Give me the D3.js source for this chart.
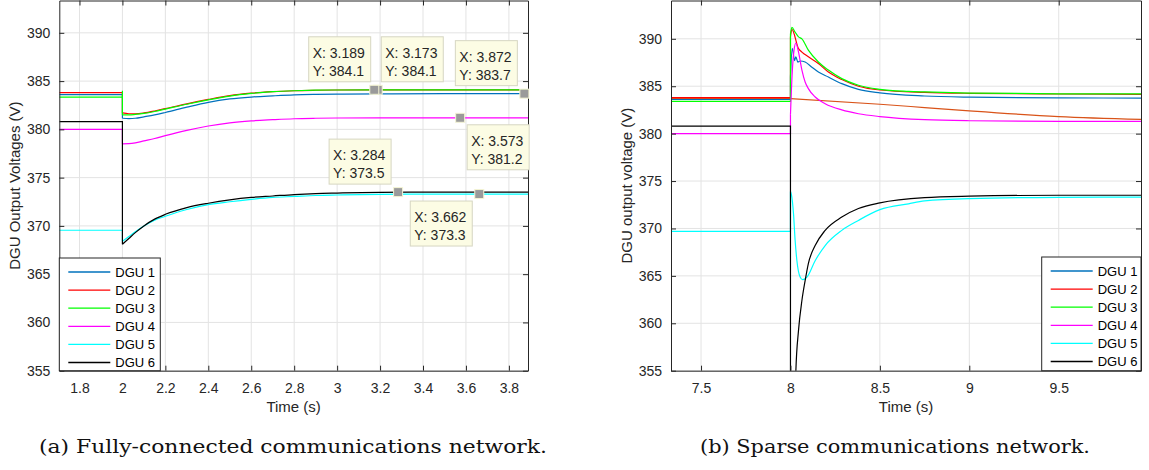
<!DOCTYPE html>
<html><head><meta charset="utf-8">
<script src="https://cdn.jsdelivr.net/npm/d3@7"></script>
<style>body{margin:0;background:#fff} svg{display:block}</style>
</head><body>
<svg id="c" width="1149" height="470"></svg>
<script>
// ---------------- DATA ----------------
const seriesNames = ["DGU 1","DGU 2","DGU 3","DGU 4","DGU 5","DGU 6"];
const yTicks = [355,360,365,370,375,380,385,390];

// (a) fully-connected
const aXDomain = [1.706, 3.889];
const aYDomain = [355, 393.35];
const aXTicks = [1.8,2,2.2,2.4,2.6,2.8,3,3.2,3.4,3.6,3.8];
const aStepTime = 2;
const aPre = [383.6, 383.8, 383.35, 380.0, 369.55, 380.8];
const aStepPeak = [null, null, 384.0, null, null, null];
const aTimes = [2.0, 2.03, 2.06, 2.1, 2.15, 2.2, 2.3, 2.4, 2.5, 2.6, 2.7, 2.8, 2.9, 3.0, 3.2, 3.5, 3.889];
const aDGU1 = [381.15,381.12,381.15,381.3,381.5,381.75,382.3,382.8,383.15,383.35,383.47,383.57,383.62,383.65,383.68,383.7,383.7];
const aDGU2 = [381.7,381.62,381.62,381.7,381.9,382.15,382.65,383.1,383.5,383.75,383.9,384.0,384.05,384.08,384.1,384.1,384.1];
const aDGU3 = [381.5,381.5,381.55,381.65,381.85,382.1,382.6,383.05,383.45,383.72,383.9,384.0,384.06,384.08,384.1,384.1,384.1];
const aDGU4 = [378.5,378.52,378.6,378.8,379.05,379.35,379.9,380.35,380.68,380.88,381.0,381.1,381.15,381.18,381.2,381.2,381.2];
const aDGU5 = [368.4,368.9,369.4,370.0,370.6,371.0,371.7,372.2,372.5,372.75,372.95,373.05,373.15,373.2,373.27,373.3,373.3];
const aDGU6 = [368.1,368.7,369.3,370.0,370.7,371.2,371.9,372.35,372.7,372.95,373.1,373.25,373.35,373.4,373.47,373.5,373.5];
const tipX = [3.189, 3.173, 3.872, 3.573, 3.284, 3.662];
const tipY = [384.1, 384.1, 383.7, 381.2, 373.5, 373.3];
const tipSide = ["ul","ur","ul","lr","ul","ll"];

// (b) sparse
const bXDomain = [7.332, 9.96];
const bYDomain = [355, 394.04];
const bXTicks = [7.5,8,8.5,9,9.5];
const bStepTime = 8;
const bPre = [383.6, 383.8, 383.4, 380.0, 369.7, 380.8];
const bDGU1 = [[8.0,386.0],[8.01,389.0],[8.023,387.7],[8.03,388.1],[8.041,387.55],[8.055,387.66],[8.082,387.55],[8.12,387.0],[8.156,386.5],[8.212,385.97],[8.287,385.27],[8.38,384.67],[8.5,384.3],[8.75,383.97],[9.0,383.85],[9.5,383.77],[9.96,383.75]];
const bDGU2 = [[8.0,390.2],[8.008,391.0],[8.045,388.97],[8.064,388.6],[8.1,388.1],[8.156,387.4],[8.212,386.5],[8.287,385.7],[8.38,385.0],[8.5,384.6],[8.75,384.35],[9.0,384.25],[9.5,384.18],[9.96,384.15]];
const bDGU3 = [[8.0,390.5],[8.008,391.2],[8.026,390.7],[8.045,390.2],[8.064,390.0],[8.1,388.8],[8.156,387.55],[8.212,386.7],[8.287,385.8],[8.38,385.1],[8.5,384.67],[8.66,384.46],[8.75,384.4],[9.0,384.28],[9.5,384.2],[9.96,384.2]];
const bDGU4 = [[8.0,382.0],[8.01,386.5],[8.02,388.8],[8.03,389.56],[8.045,388.6],[8.064,386.7],[8.082,385.45],[8.1,384.75],[8.138,383.86],[8.194,383.16],[8.287,382.5],[8.38,382.1],[8.5,381.8],[8.75,381.47],[9.0,381.36],[9.5,381.3],[9.96,381.3]];
const bDGU5 = [[8.0,373.9],[8.005,373.6],[8.017,371.56],[8.026,368.75],[8.036,366.6],[8.054,364.87],[8.067,364.6],[8.092,364.87],[8.138,366.6],[8.194,368.2],[8.287,369.8],[8.38,370.85],[8.5,371.98],[8.66,372.6],[8.75,372.9],[9.0,373.15],[9.5,373.28],[9.96,373.3]];
const bDGU6 = [[8.0,320],[8.015,340],[8.03,354.85],[8.045,359.25],[8.064,362.4],[8.082,364.5],[8.1,366.3],[8.138,368.2],[8.194,369.8],[8.287,371.2],[8.38,372.1],[8.5,372.7],[8.75,373.25],[9.0,373.4],[9.5,373.5],[9.96,373.5]];
const bRefPre = 383.7;
const bRef = [[8.0,383.7],[8.5,383.1],[8.75,382.75],[9.0,382.4],[9.5,381.8],[9.96,381.5]];

// ---------------- STYLE ----------------
const colors = ["#0072BD","#FF0000","#00FF00","#FF00FF","#00FFFF","#000000"];
const refColor = "#D95319";
const svg = d3.select("#c");
const FONT = "'Liberation Sans', Arial, Helvetica, sans-serif";

function panel(o){
  const x = d3.scaleLinear().domain(o.xDomain).range([o.left, o.right]);
  const y = d3.scaleLinear().domain(o.yDomain).range([o.bottom, o.top]);
  const g = svg.append("g");
  const cid = "clip" + o.id;
  svg.append("defs").append("clipPath").attr("id", cid).append("rect")
     .attr("x", o.left).attr("y", o.top).attr("width", o.right-o.left).attr("height", o.bottom-o.top);

  // grid
  g.append("g").selectAll("line").data(o.xTicks).join("line")
    .attr("x1", d=>x(d)).attr("x2", d=>x(d)).attr("y1", o.top).attr("y2", o.bottom)
    .attr("stroke", "#e3e3e3").attr("stroke-width", 1);
  g.append("g").selectAll("line").data(yTicks).join("line")
    .attr("y1", d=>y(d)).attr("y2", d=>y(d)).attr("x1", o.left).attr("x2", o.right)
    .attr("stroke", "#e3e3e3").attr("stroke-width", 1);

  // lines
  const lines = g.append("g").attr("clip-path", `url(#${cid})`);
  const lin = d3.line().x(d=>x(d[0])).y(d=>y(d[1]));
  const smooth = d3.line().x(d=>x(d[0])).y(d=>y(d[1])).curve(d3.curveMonotoneX);
  o.series.forEach(s => {
    const prePts = [[o.xDomain[0], s.pre],[o.step, s.pre]];
    if (s.peak != null) prePts.push([o.step, s.peak]);
    prePts.push(s.post[0]);
    lines.append("path").attr("d", lin(prePts)).attr("fill","none")
      .attr("stroke", s.color).attr("stroke-width", 1.2);
    lines.append("path").attr("d", smooth(s.post)).attr("fill","none")
      .attr("stroke", s.color).attr("stroke-width", 1.2);
  });

  // axes box
  const axCol = "#262626";
  const xAxB = d3.axisBottom(x).tickValues(o.xTicks).tickSizeInner(-5).tickSizeOuter(0).tickPadding(12).tickFormat(d=>String(+d.toFixed(1)));
  const xAxT = d3.axisTop(x).tickValues(o.xTicks).tickSizeInner(-5).tickSizeOuter(0).tickFormat("");
  const yAxL = d3.axisLeft(y).tickValues(yTicks).tickSizeInner(-5).tickSizeOuter(0).tickPadding(9);
  const yAxR = d3.axisRight(y).tickValues(yTicks).tickSizeInner(-5).tickSizeOuter(0).tickFormat("");
  const style = sel => { sel.selectAll("path").attr("stroke", axCol);
    sel.selectAll("line").attr("stroke", axCol);
    sel.selectAll("text").attr("fill", axCol).style("font-family", FONT).style("font-size","14px"); };
  g.append("g").attr("transform",`translate(0,${o.bottom})`).call(xAxB).call(style);
  g.append("g").attr("transform",`translate(0,${o.top})`).call(xAxT).call(style);
  g.append("g").attr("transform",`translate(${o.left},0)`).call(yAxL).call(style);
  g.append("g").attr("transform",`translate(${o.right},0)`).call(yAxR).call(style);

  // labels
  g.append("text").attr("x", (o.left+o.right)/2).attr("y", 412).attr("text-anchor","middle")
    .style("font-family", FONT).style("font-size","15px").attr("fill", axCol).text("Time (s)");
  g.append("text").attr("transform",`translate(${o.ylabX},${(o.top+o.bottom)/2}) rotate(-90)`)
    .attr("text-anchor","middle").style("font-family", FONT).style("font-size","15px")
    .attr("fill", axCol).text(o.ylabel);
  g.append("text").attr("x", o.capX).attr("y", 453).attr("text-anchor","start")
    .attr("textLength", o.capW).attr("lengthAdjust","spacingAndGlyphs")
    .style("font-family", "'DejaVu Serif', 'Liberation Serif', serif").style("font-size","19px")
    .attr("fill","#111").text(o.caption);

  // legend
  const lg = g.append("g");
  lg.append("rect").attr("x", o.legX).attr("y", o.legY).attr("width", o.legW).attr("height", o.legH)
    .attr("fill","#fff").attr("stroke", axCol).attr("stroke-width", 1);
  seriesNames.forEach((n,i) => {
    const yy = o.legY + 14 + i*18.1;
    lg.append("line").attr("x1", o.legX+9).attr("x2", o.legX+51).attr("y1", yy).attr("y2", yy)
      .attr("stroke", colors[i]).attr("stroke-width", 1.3);
    lg.append("text").attr("x", o.legX+56).attr("y", yy).attr("dy","0.36em")
      .style("font-family", FONT).style("font-size","13px").attr("fill","#000").text(n);
  });
  return {x, y, g};
}

// ---- panel a ----
const aSeriesVals = [aDGU1,aDGU2,aDGU3,aDGU4,aDGU5,aDGU6];
const pa = panel({
  id:"a", xDomain:aXDomain, yDomain:aYDomain, xTicks:aXTicks, step:aStepTime,
  left:59.3, right:528, top:0.5, bottom:370.7,
  series: aSeriesVals.map((vals,i)=>({pre:aPre[i], peak:aStepPeak[i], color:colors[i],
            post: aTimes.map((t,j)=>[t, vals[j]])})),
  ylabel:"DGU Output Voltages (V)", ylabX:20,
  caption:"(a) Fully-connected communications network.", capX:39, capW:508,
  legX:59.3, legY:258, legW:101, legH:112.7
});

// data tips
const tipW = 62, tipH = 45, off = 7;
tipX.forEach((tx,i) => {
  const mx = pa.x(tx), my = pa.y(tipY[i]);
  const side = tipSide[i];
  const bx = side[1]==="l" ? mx - off - tipW : mx + off;
  const by = side[0]==="u" ? my - 8 - tipH : my + 7;
  const tg = pa.g.append("g");
  tg.append("rect").attr("x", bx).attr("y", by).attr("width", tipW).attr("height", tipH)
    .attr("fill","#fcfce4").attr("stroke","#d6d6c2").attr("stroke-width",1);
  tg.append("text").attr("x", bx+4).attr("y", by+16).attr("dy","0.35em")
    .style("font-family", FONT).style("font-size","14px").attr("fill","#262626").text("X: " + tx);
  tg.append("text").attr("x", bx+4).attr("y", by+34).attr("dy","0.35em")
    .style("font-family", FONT).style("font-size","14px").attr("fill","#262626").text("Y: " + tipY[i]);
});
tipX.forEach((tx,i) => {
  pa.g.append("rect").attr("x", pa.x(tx)-4.5).attr("y", pa.y(tipY[i])-4.5).attr("width",9).attr("height",9)
    .attr("fill","#9a9a9a").attr("stroke","#f4f4d4").attr("stroke-width",1);
});

// ---- panel b ----
const bSeriesVals = [bDGU1,bDGU2,bDGU3,bDGU4,bDGU5,bDGU6];
const bSeries = [{pre:bRefPre, peak:null, color:refColor, post:bRef}]
  .concat(bSeriesVals.map((vals,i)=>({pre:bPre[i], peak:null, color:colors[i], post:vals})));
panel({
  id:"b", xDomain:bXDomain, yDomain:bYDomain, xTicks:bXTicks, step:bStepTime,
  left:671, right:1141, top:0.5, bottom:370.7,
  series: bSeries,
  ylabel:"DGU output voltage (V)", ylabX:632,
  caption:"(b) Sparse communications network.", capX:700, capW:390,
  legX:1041.7, legY:257, legW:99.3, legH:113.7
});
</script>
</body></html>
